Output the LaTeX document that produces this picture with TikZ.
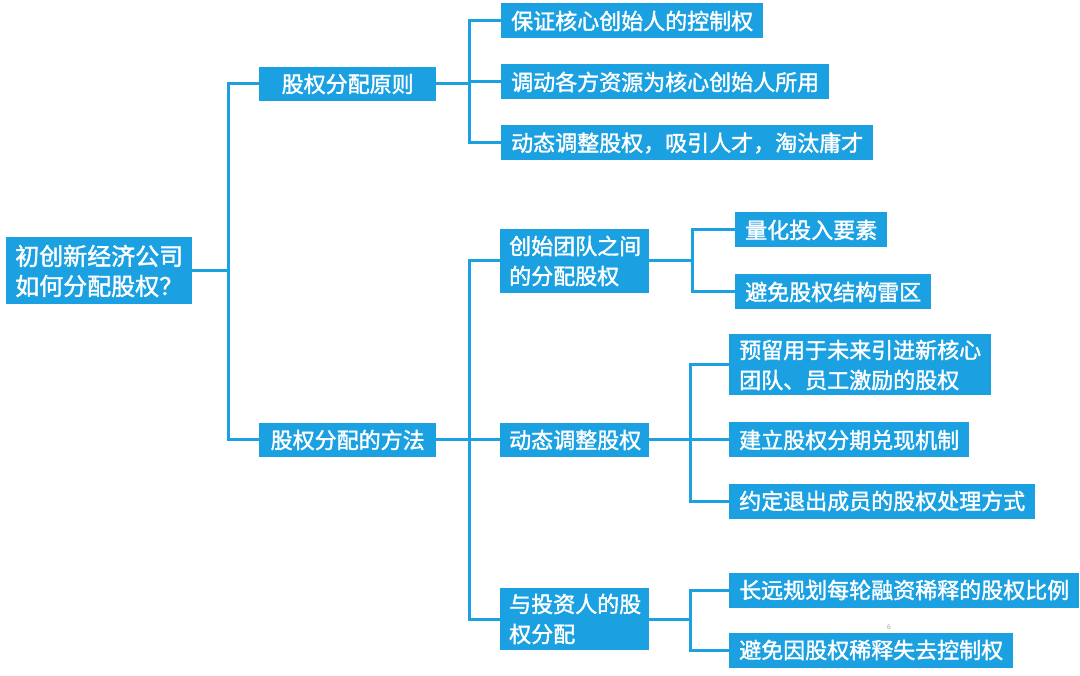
\documentclass[tikz,border=0pt]{standalone}
\usepackage{fontspec}
\newfontfamily\cjkfont{Noto Sans CJK SC}[FakeBold=1.6]
\usetikzlibrary{calc,positioning}
\definecolor{mapblue}{RGB}{27,161,226}
\tikzset{
  wire/.style={draw=mapblue, line width=3pt},
  rootbox/.style={fill=mapblue, text=white, anchor=west, align=left, inner xsep=9pt, inner ysep=0pt,
    minimum width=185pt, minimum height=67pt, font=\cjkfont\fontsize{24}{30}\selectfont},
  mainbox/.style={fill=mapblue, text=white, anchor=west, inner sep=0pt, minimum width=177pt,
    minimum height=34pt, font=\cjkfont\fontsize{22}{30}\selectfont},
  midbox/.style={fill=mapblue, text=white, anchor=west, align=left, text width=131pt, inner xsep=9pt,
    inner ysep=0pt, minimum height=34pt, font=\cjkfont\fontsize{22}{30}\selectfont},
  leafbox/.style={fill=mapblue, text=white, anchor=west, align=left, inner xsep=10pt, inner ysep=0pt,
    minimum height=35pt, font=\cjkfont\fontsize{22}{30}\selectfont}
}
\begin{document}
\begin{tikzpicture}[x=1pt,y=-1pt]
  \fill[white] (0,0) rectangle (1080,676);
  \useasboundingbox (0,0) rectangle (1080,676);
  % root and first level
  \node[rootbox] (root) at (6,271) {初创新经济公司\\如何分配股权？};
  \node[mainbox] (rule) at (259,84) {股权分配原则};
  \node[mainbox] (method) at (259,440) {股权分配的方法};
  % principles
  \node[leafbox] (ruleA) at (501,21) {保证核心创始人的控制权};
  \node[leafbox] (ruleB) at (501,82) {调动各方资源为核心创始人所用};
  \node[leafbox] (ruleC) at (501,143) {动态调整股权，吸引人才，淘汰庸才};
  % methods
  \node[midbox, minimum height=64pt] (team) at (500,261) {创始团队之间\\的分配股权};
  \node[midbox] (dyn) at (500,440) {动态调整股权};
  \node[midbox, minimum height=62pt] (inv) at (500,619) {与投资人的股\\权分配};
  \node[leafbox] (teamA) at (735,230) {量化投入要素};
  \node[leafbox] (teamB) at (735,292) {避免股权结构雷区};
  \node[leafbox, minimum height=61pt] (dynA) at (729,365) {预留用于未来引进新核心\\团队、员工激励的股权};
  \node[leafbox] (dynB) at (729,440) {建立股权分期兑现机制};
  \node[leafbox] (dynC) at (729,501) {约定退出成员的股权处理方式};
  \node[leafbox] (invA) at (729,590) {长远规划每轮融资稀释的股权比例};
  \node[leafbox] (invB) at (729,650) {避免因股权稀释失去控制权};
  \node[text=black!35, font=\sffamily\fontsize{7}{8}\selectfont] (pnum) at (889,627) {6};
  % bracket columns
  \coordinate (c0) at (228,0);
  \coordinate (c1) at (469,0);
  \coordinate (c2) at (692,0);
  \coordinate (c3) at (690,0);
  % connectors
  \foreach \kid in {rule,method}
    \draw[wire] (root.east) -| (c0 |- \kid.west) -- (\kid.west);
  \foreach \kid in {ruleA,ruleB,ruleC}
    \draw[wire] (rule.east) -| (c1 |- \kid.west) -- (\kid.west);
  \foreach \kid in {team,dyn,inv}
    \draw[wire] (method.east) -| (c1 |- \kid.west) -- (\kid.west);
  \foreach \kid in {teamA,teamB}
    \draw[wire] (team.east) -| (c2 |- \kid.west) -- (\kid.west);
  \foreach \kid in {dynA,dynB,dynC}
    \draw[wire] (dyn.east) -| (c3 |- \kid.west) -- (\kid.west);
  \foreach \kid in {invA,invB}
    \draw[wire] (inv.east) -| (c3 |- \kid.west) -- (\kid.west);
\end{tikzpicture}
\end{document}
